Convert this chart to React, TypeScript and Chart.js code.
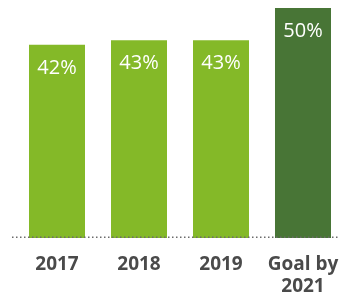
import React, { useEffect, useRef } from "react";
import { Chart, registerables } from "chart.js";

Chart.register(...registerables);

const categories: (string | string[])[] = ["2017", "2018", "2019", ["Goal by", "2021"]];
const values: number[] = [42, 43, 43, 50];
const valueLabels: string[] = ["42%", "43%", "43%", "50%"];
const barColors: string[] = ["#84b928", "#84b928", "#84b928", "#487536"];

const FONT = "'Open Sans', 'Noto Sans', sans-serif";

const valueLabelPlugin = {
  id: "valueLabels",
  afterDatasetsDraw(chart: any) {
    const ctx = chart.ctx;
    const meta = chart.getDatasetMeta(0);
    ctx.save();
    ctx.fillStyle = "#ffffff";
    ctx.font = `400 20px ${FONT}`;
    ctx.textAlign = "center";
    ctx.textBaseline = "middle";
    meta.data.forEach((bar: any, i: number) => {
      ctx.fillText(valueLabels[i], bar.x, bar.y + 23);
    });
    ctx.restore();
  },
};

const baselinePlugin = {
  id: "dottedBaseline",
  afterDatasetsDraw(chart: any) {
    const ctx = chart.ctx;
    const y = chart.scales.y.getPixelForValue(0) - 0.75;
    ctx.save();
    ctx.strokeStyle = "#6b6b6b";
    ctx.lineWidth = 1.5;
    ctx.setLineDash([1.5, 2.5]);
    ctx.beginPath();
    ctx.moveTo(12, y);
    ctx.lineTo(chart.width, y);
    ctx.stroke();
    ctx.restore();
  },
};

export default function App() {
  const ref = useRef<HTMLCanvasElement>(null);
  useEffect(() => {
    if (!ref.current) return;
    const chart = new Chart(ref.current, {
      type: "bar",
      data: {
        labels: categories,
        datasets: [
          {
            data: values,
            backgroundColor: barColors,
            borderWidth: 0,
            categoryPercentage: 1,
            barPercentage: 0.683,
          },
        ],
      },
      options: {
        responsive: false,
        animation: false,
        devicePixelRatio: 1,
        layout: { padding: { top: 8, left: 16, right: 0, bottom: 0 } },
        plugins: { legend: { display: false }, tooltip: { enabled: false } },
        scales: {
          y: { display: false, min: 0, max: 50 },
          x: {
            grid: { display: false, drawTicks: false },
            border: { display: false },
            afterFit: (s: any) => {
              s.height = 64;
              s.paddingLeft = 0;
              s.paddingRight = 0;
            },
            ticks: {
              padding: 16,
              color: "#4a4a4a",
              font: { family: FONT, size: 19, weight: "bold", lineHeight: 1.15 },
              maxRotation: 0,
              autoSkip: false,
            },
          },
        },
      },
      plugins: [valueLabelPlugin, baselinePlugin],
    });
    return () => chart.destroy();
  }, []);
  return (
    <div style={{ position: "absolute", left: 0, top: 0, width: 340, height: 302, overflow: "hidden", background: "#fff" }}>
      <canvas ref={ref} width={344} height={302} style={{ display: "block" }} />
    </div>
  );
}
